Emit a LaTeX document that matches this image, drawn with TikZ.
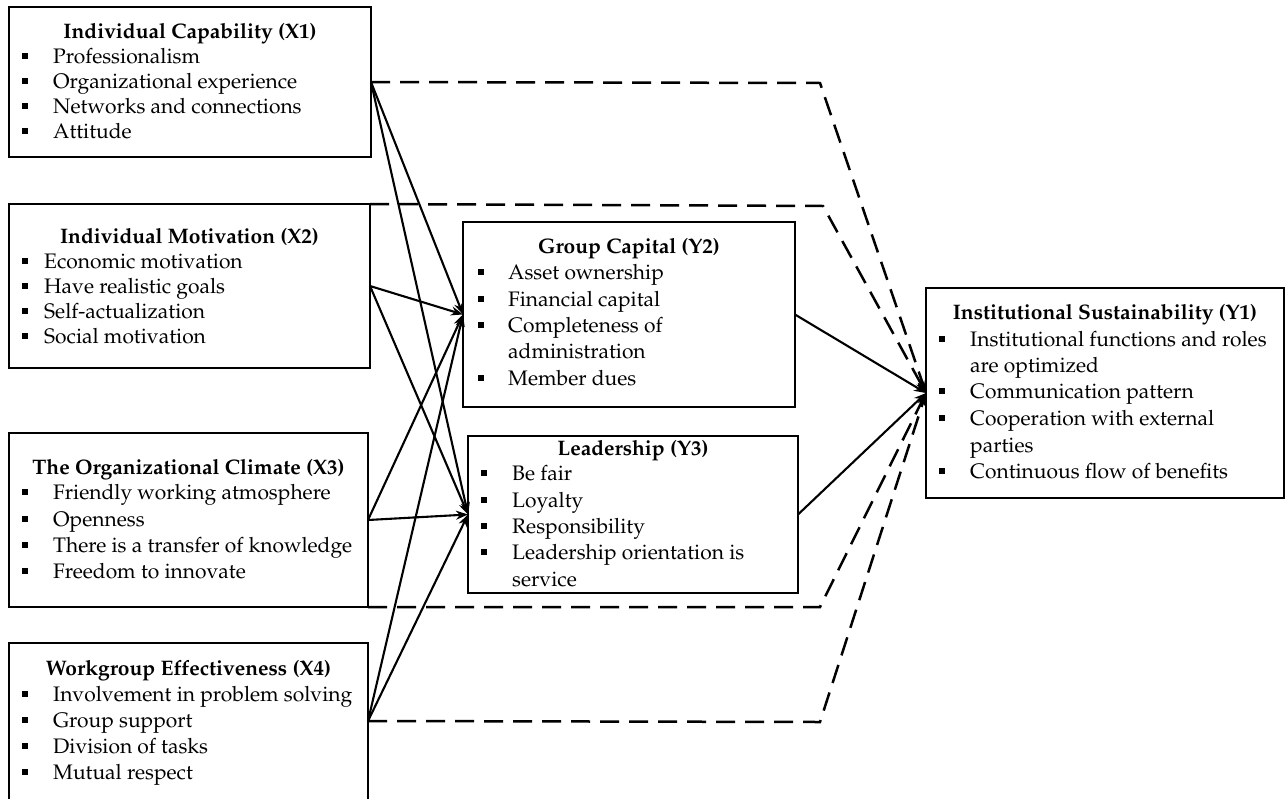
\documentclass[tikz,border=0pt]{standalone}
\usepackage[T1]{fontenc}
\renewcommand{\rmdefault}{ppl}
\usetikzlibrary{arrows.meta}
\newcommand{\bitem}[5]{\node[sq] (#1b) at (#2,#4-7) {}; \node[itm] (#1) at (#3,#4) {#5};}
\begin{document}
\begin{tikzpicture}[x=1pt,y=-1pt,
  boxline/.style={line width=1.5pt},
  bx/.style={rectangle, inner sep=0pt, outer sep=0pt},
  ttl/.style={font=\fontsize{21}{25}\selectfont\bfseries, anchor=base, inner sep=0pt},
  itm/.style={font=\fontsize{21}{25}\selectfont, anchor=base west, inner sep=0pt},
  sq/.style={fill=black, minimum size=6pt, inner sep=0pt, rectangle},
  arr/.style={line width=2.1pt, -{Stealth[length=12pt,width=9pt]}},
  dsh/.style={line width=2.5pt, dash pattern=on 19pt off 10pt, -{Stealth[length=12pt,width=9pt]}},
]
\useasboundingbox[fill=white] (0,0) rectangle (1287,798);

% boxes
\node[bx, draw, boxline, minimum width=362pt, minimum height=150pt] (X1) at (190,82) {};
\node[bx, draw, boxline, minimum width=361pt, minimum height=164pt] (X2) at (189.5,286) {};
\node[bx, draw, boxline, minimum width=359pt, minimum height=174pt] (X3) at (188.5,520) {};
\node[bx, minimum width=359pt, minimum height=156pt] (X4) at (188.5,721) {};
\draw[boxline] (X4.south west) |- (X4.north east) -- (X4.south east);
\node[bx, draw, boxline, minimum width=332pt, minimum height=185pt] (Y2) at (629,314.5) {};
\node[bx, draw, boxline, minimum width=330pt, minimum height=157pt] (Y3) at (633,514.5) {};
\node[bx, draw, boxline, minimum width=358pt, minimum height=210pt] (Y1) at (1105,393) {};

% X1
\node[ttl] (X1t) at (190,38) {Individual Capability (X1)};
\bitem{X1a}{25}{53}{63}{Professionalism}
\bitem{X1b}{25}{53}{88}{Organizational experience}
\bitem{X1c}{25}{53}{113}{Networks and connections}
\bitem{X1d}{25}{53}{138}{Attitude}
% X2
\node[ttl] (X2t) at (189.5,243) {Individual Motivation (X2)};
\bitem{X2a}{25}{44}{268}{Economic motivation}
\bitem{X2b}{25}{44}{293}{Have realistic goals}
\bitem{X2c}{25}{44}{318}{Self-actualization}
\bitem{X2d}{25}{44}{343}{Social motivation}
% X3
\node[ttl] (X3t) at (188.5,474) {The Organizational Climate (X3)};
\bitem{X3a}{25}{53}{499}{Friendly working atmosphere}
\bitem{X3b}{25}{53}{526}{Openness}
\bitem{X3c}{25}{53}{552}{There is a transfer of knowledge}
\bitem{X3d}{25}{53}{578}{Freedom to innovate}
% X4
\node[ttl] (X4t) at (188.5,675) {Workgroup Effectiveness (X4)};
\bitem{X4a}{25}{53}{701}{Involvement in problem solving}
\bitem{X4b}{25}{53}{727}{Group support}
\bitem{X4c}{25}{53}{753}{Division of tasks}
\bitem{X4d}{25}{53}{779}{Mutual respect}
% Y2
\node[ttl] (Y2t) at (629,253) {Group Capital (Y2)};
\bitem{Y2a}{481}{508}{279}{Asset ownership}
\bitem{Y2b}{481}{508}{306}{Financial capital}
\bitem{Y2c}{481}{508}{332}{Completeness of}
\node[itm] (Y2c2) at (508,358) {administration};
\bitem{Y2d}{481}{508}{385}{Member dues}
% Y3
\node[ttl] (Y3t) at (633,455) {Leadership (Y3)};
\bitem{Y3a}{484}{512}{480}{Be fair}
\bitem{Y3b}{484}{512}{507}{Loyalty}
\bitem{Y3c}{484}{512}{533}{Responsibility}
\bitem{Y3d}{484}{512}{559}{Leadership orientation is}
\node[itm] (Y3d2) at (512,586) {service};
% Y1
\node[ttl] (Y1t) at (1105,319) {Institutional Sustainability (Y1)};
\bitem{Y1a}{942}{970}{346}{Institutional functions and roles}
\node[itm] (Y1a2) at (970,372) {are optimized};
\bitem{Y1b}{942}{970}{398}{Communication pattern}
\bitem{Y1c}{942}{970}{425}{Cooperation with external}
\node[itm] (Y1c2) at (970,452) {parties};
\bitem{Y1d}{942}{970}{478}{Continuous flow of benefits}

% dashed corners
\coordinate (c1) at (820,83);
\coordinate (c2) at (823,206);
\coordinate (c3) at (820,607);
\coordinate (c4) at (820,722);

% solid connectors
\foreach \s in {X1,X2,X3,X4}{
  \draw[arr] (\s.east) -- (Y2.west);
  \draw[arr] (\s.east) -- (Y3.west);
}
\draw[arr] (Y2.east) -- (Y1.west);
\draw[arr] (Y3.east) -- (Y1.west);

% dashed connectors
\draw[dsh] (X1.east) -- (c1) -- (Y1.west);
\draw[dsh] (X2.north east) -- (c2) -- (Y1.west);
\draw[dsh] (X3.south east) -- (c3) -- (Y1.west);
\draw[dsh] (X4.east) -- (c4) -- (Y1.west);
\end{tikzpicture}
\end{document}
